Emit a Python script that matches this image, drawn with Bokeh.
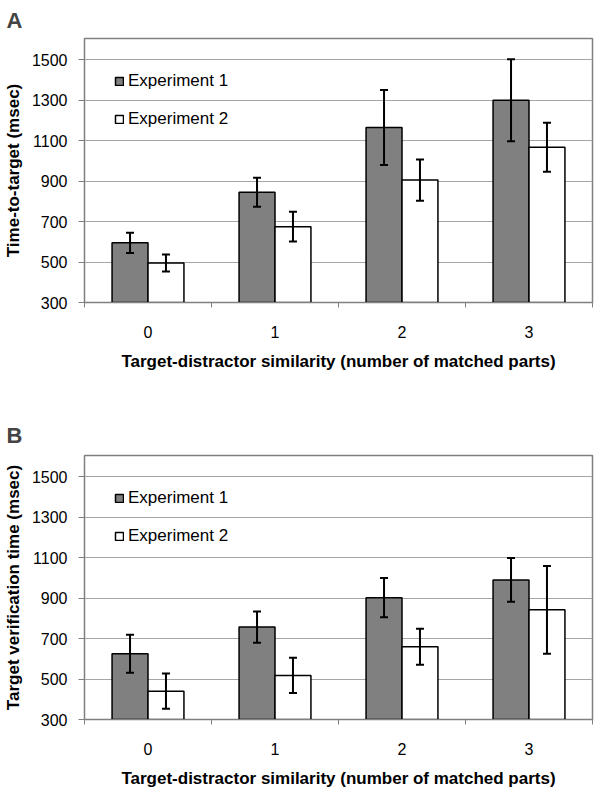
import numpy as np
from bokeh.plotting import figure
from bokeh.models import ColumnDataSource, Whisker, TeeHead, FixedTicker, Range1d
from bokeh.layouts import column
from bokeh.embed import file_html
from bokeh.resources import INLINE

categories = ["0", "1", "2", "3"]
series = ["Experiment 1", "Experiment 2"]
y_ticks = [300, 500, 700, 900, 1100, 1300, 1500]

a_exp1 = [595, 845, 1165, 1300]
a_exp1_err = [50, 72, 185, 203]
a_exp2 = [495, 675, 905, 1067]
a_exp2_err = [42, 74, 102, 121]

b_exp1 = [625, 757, 902, 990]
b_exp1_err = [94, 77, 97, 108]
b_exp2 = [440, 518, 660, 842]
b_exp2_err = [87, 87, 89, 217]

xlabel = "Target-distractor similarity (number of matched parts)"
FONT = "Liberation Sans"
GRAY = "#808080"
BAR_W = 0.283


def make_panel(letter, ylabel, e1, e1err, e2, e2err, fh, btop, bbot, tstand):
    p = figure(frame_width=508, frame_height=fh, output_backend="svg", toolbar_location=None,
               x_range=Range1d(0, len(categories)), y_range=Range1d(y_ticks[0], 1605),
               min_border_left=83, min_border_right=2, min_border_top=btop,
               min_border_bottom=bbot)
    idx = np.arange(len(categories)) + 0.5
    for vals, errs, fill, off, name in [(e1, e1err, GRAY, -BAR_W / 2, series[0]),
                                        (e2, e2err, "white", BAR_W / 2, series[1])]:
        v = np.array(vals, dtype=float)
        e = np.array(errs, dtype=float)
        src = ColumnDataSource(dict(x=idx + off, top=v, lo=v - e, hi=v + e))
        p.vbar(x="x", top="top", bottom=y_ticks[0], width=BAR_W, source=src,
               fill_color=fill, line_color="black", line_width=1.5, legend_label=name)
        w = Whisker(base="x", upper="hi", lower="lo", source=src, line_color="black",
                    line_width=2,
                    upper_head=TeeHead(size=8, line_width=2, line_color="black"),
                    lower_head=TeeHead(size=8, line_width=2, line_color="black"))
        w.level = "overlay"
        p.add_layout(w)

    p.title.text = letter
    p.title.text_font = FONT
    p.title.text_font_size = "22px"
    p.title.text_font_style = "bold"
    p.title.align = "left"
    p.title.offset = -78
    p.title.standoff = tstand

    xa = p.xaxis[0]
    xa.ticker = FixedTicker(ticks=list(idx), minor_ticks=list(range(len(categories) + 1)))
    xa.major_label_overrides = {float(t): c for t, c in zip(idx, categories)}
    xa.major_tick_in = 0
    xa.major_tick_out = 0
    xa.minor_tick_in = 0
    xa.minor_tick_out = 5
    xa.minor_tick_line_color = GRAY
    xa.axis_line_color = GRAY
    xa.major_label_text_font = FONT
    xa.major_label_text_font_size = "16px"
    xa.major_label_text_color = "black"
    xa.major_label_standoff = 18
    xa.axis_label = xlabel
    xa.axis_label_text_font = FONT
    xa.axis_label_text_font_size = "17px"
    xa.axis_label_text_font_style = "bold"
    xa.axis_label_text_color = "black"
    xa.axis_label_standoff = 11

    ya = p.yaxis[0]
    ya.ticker = FixedTicker(ticks=y_ticks, minor_ticks=[])
    ya.major_tick_in = 0
    ya.major_tick_out = 6
    ya.major_tick_line_color = GRAY
    ya.axis_line_color = GRAY
    ya.major_label_text_font = FONT
    ya.major_label_text_font_size = "16px"
    ya.major_label_text_color = "black"
    ya.major_label_standoff = 11
    ya.axis_label = ylabel
    ya.axis_label_text_font = FONT
    ya.axis_label_text_font_size = "17px"
    ya.axis_label_text_font_style = "bold"
    ya.axis_label_text_color = "black"
    ya.axis_label_standoff = 6

    p.xgrid.grid_line_color = None
    p.ygrid.grid_line_color = "#a6a6a6"
    p.ygrid.grid_line_width = 1
    p.outline_line_color = GRAY
    p.outline_line_width = 1.5

    lg = p.legend[0]
    lg.location = "top_left"
    lg.margin = 30
    lg.padding = 0
    lg.border_line_color = None
    lg.background_fill_alpha = 0
    lg.glyph_width = 10
    lg.glyph_height = 10
    lg.label_height = 26
    lg.spacing = 12
    lg.label_standoff = 4
    lg.label_text_font = FONT
    lg.label_text_font_size = "17px"
    lg.label_text_color = "black"
    return p


pa = make_panel("A", "Time-to-target (msec)", a_exp1, a_exp1_err, a_exp2, a_exp2_err,
                264, 35, 88, 11)
pb = make_panel("B", "Target verification time (msec)", b_exp1, b_exp1_err, b_exp2,
                b_exp2_err, 264, 65, 66, 16)

layout = column(pa, pb, spacing=0)
open("out.html", "w").write(file_html(layout, INLINE))
